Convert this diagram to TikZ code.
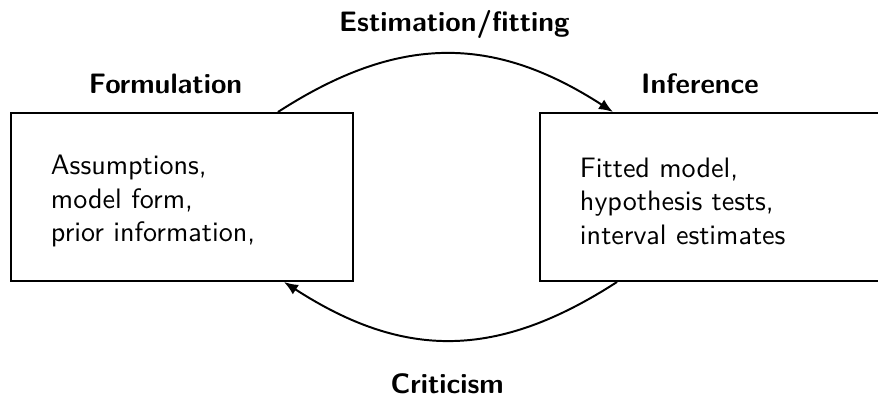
\documentclass[tikz,border=0pt]{standalone}
\usetikzlibrary{arrows.meta, positioning}
\renewcommand{\familydefault}{\sfdefault}

\begin{document}
\begin{tikzpicture}[
    box/.style={draw, line width=0.7pt, align=left, inner xsep=0.5cm, text height=0.35cm, minimum height=2.1cm, anchor=west},
    title/.style={font=\bfseries, anchor=base},
    flow/.style={line width=0.7pt, -{Latex[length=5pt, width=4pt]}}
  ]
    \useasboundingbox (0, 0) rectangle (10.975, 4.95);

    \node[box, text width=3.275cm] (form) at (0.125, 2.4875) {Assumptions,\\model form,\\prior information,};
    \node[box, text width=3.3875cm] (infer) at (6.7375, 2.4875) {Fitted model,\\hypothesis tests,\\interval estimates};

    \node[title] (formT) at (2.07, 3.78) {Formulation};
    \node[title] (inferT) at (8.75, 3.78) {Inference};
    \node[title] (estT) at (5.68, 4.554) {Estimation/fitting};
    \node[title] (critT) at (5.59, 0.025) {Criticism};

    \draw[flow] ([xshift=-0.95cm]form.north east) .. controls +(1.5, 0.97) and +(-1.5, 0.97) .. ([xshift=0.925cm]infer.north west);
    \draw[flow] ([xshift=0.975cm]infer.south west) .. controls +(-1.5, -0.97) and +(1.5, -0.97) .. ([xshift=-0.875cm]form.south east);
\end{tikzpicture}
\end{document}
